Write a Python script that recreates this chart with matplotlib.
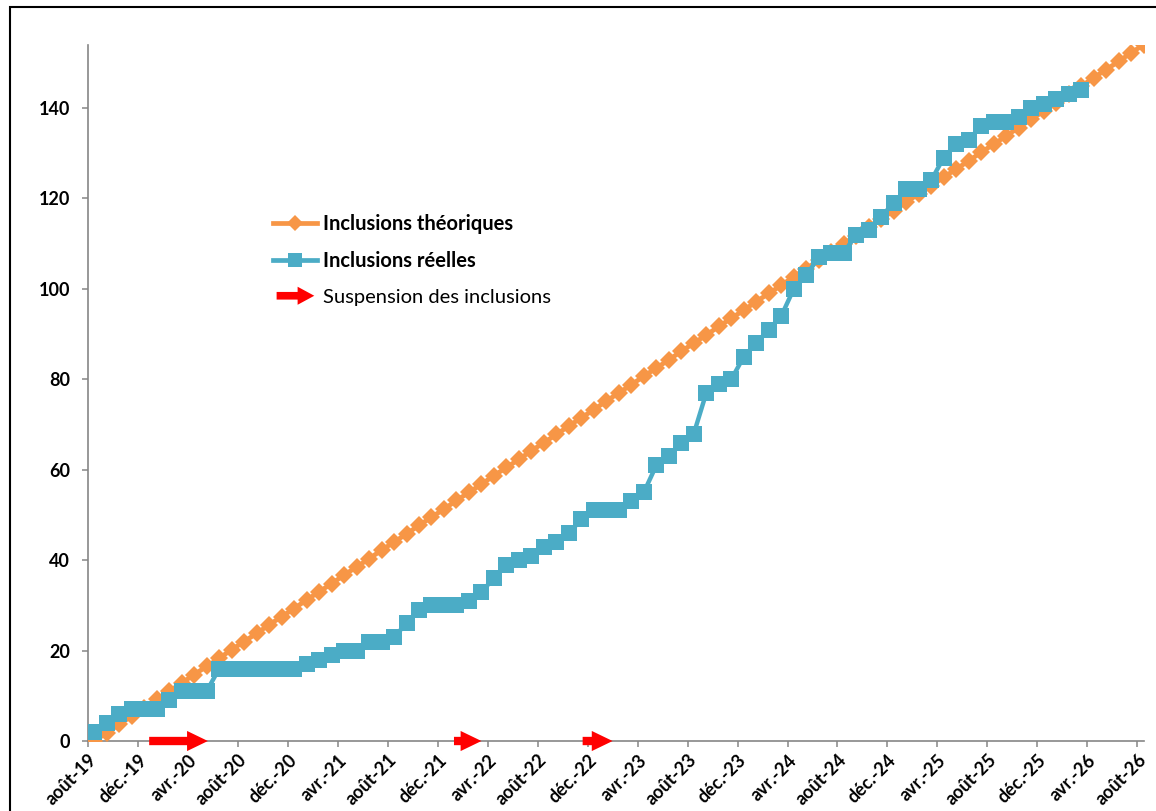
import numpy as np
import matplotlib.pyplot as plt
import matplotlib.transforms as mtransforms
from matplotlib.patches import FancyArrowPatch, Rectangle
from matplotlib.lines import Line2D
from matplotlib.legend_handler import HandlerBase

plt.rcParams['font.family'] = ['Lato', 'DejaVu Sans']

# Étiquettes de l'axe des dates (tous les 4 mois, d'août 2019 à août 2026)
labels_mois = ['août-19', 'déc.-19', 'avr.-20', 'août-20', 'déc.-20', 'avr.-21',
               'août-21', 'déc.-21', 'avr.-22', 'août-22', 'déc.-22', 'avr.-23',
               'août-23', 'déc.-23', 'avr.-24', 'août-24', 'déc.-24', 'avr.-25',
               'août-25', 'déc.-25', 'avr.-26', 'août-26']

# Inclusions cumulées théoriques, une valeur par mois
theoriques = [0, 1.8, 3.7, 5.5, 7.3, 9.2, 11.0, 12.8, 14.7, 16.5,
              18.3, 20.2, 22.0, 23.8, 25.7, 27.5, 29.3, 31.2, 33.0, 34.8,
              36.7, 38.5, 40.3, 42.2, 44.0, 45.8, 47.7, 49.5, 51.3, 53.2,
              55.0, 56.8, 58.7, 60.5, 62.3, 64.2, 66.0, 67.8, 69.7, 71.5,
              73.3, 75.2, 77.0, 78.8, 80.7, 82.5, 84.3, 86.2, 88.0, 89.8,
              91.7, 93.5, 95.3, 97.2, 99.0, 100.8, 102.7, 104.5, 106.3, 108.2,
              110.0, 111.8, 113.7, 115.5, 117.3, 119.2, 121.0, 122.8, 124.7, 126.5,
              128.3, 130.2, 132.0, 133.8, 135.7, 137.5, 139.3, 141.2, 143.0, 144.8,
              146.7, 148.5, 150.3, 152.2, 154.0]

# Inclusions cumulées réelles, une valeur par mois
reelles = [2, 4, 6, 7, 7, 7, 9, 11, 11, 11,
           16, 16, 16, 16, 16, 16, 16, 17, 18, 19,
           20, 20, 22, 22, 23, 26, 29, 30, 30, 30,
           31, 33, 36, 39, 40, 41, 43, 44, 46, 49,
           51, 51, 51, 53, 55, 61, 63, 66, 68, 77,
           79, 80, 85, 88, 91, 94, 100, 103, 107, 108,
           108, 112, 113, 116, 119, 122, 122, 124, 129, 132,
           133, 136, 137, 137, 138, 140, 141, 142, 143, 144]

# Périodes de suspension (en mois depuis août 2019)
susp_debut = [4.9, 29.3, 39.6]
susp_fin = [9.6, 31.5, 42.0]

orange = '#F79646'
bleu = '#4BACC6'
gris = '#868686'


class HandlerFleche(HandlerBase):
    def create_artists(self, legend, orig_handle, xdescent, ydescent,
                       width, height, fontsize, trans):
        y = height / 2 - ydescent
        p = FancyArrowPatch((-xdescent + 0.08 * width, y), (-xdescent + 0.93 * width, y),
                            arrowstyle='simple,head_width=1.3,head_length=1.2,tail_width=0.55',
                            mutation_scale=10, color='red', lw=0,
                            shrinkA=0, shrinkB=0, transform=trans)
        return [p]


fig = plt.figure(figsize=(11.56, 8.11), dpi=100)
ax = fig.add_axes([0.0761, 0.0863, 0.9131, 0.8585])

x_th = np.arange(len(theoriques)) + 0.5
x_re = np.arange(len(reelles)) + 0.5

ax.plot(x_th, theoriques, color=orange, lw=3.4, marker='D', markersize=9.5,
        markeredgewidth=0, zorder=3, label='Inclusions théoriques')
ax.plot(x_re, reelles, color=bleu, lw=3.2, marker='s', markersize=11.5,
        markeredgewidth=0, zorder=4, label='Inclusions réelles')

fleches = []
for d, f in zip(susp_debut, susp_fin):
    a = FancyArrowPatch((d, 0), (f, 0),
                        arrowstyle='simple,head_width=1.45,head_length=1.5,tail_width=0.6',
                        mutation_scale=10, color='red', lw=0, zorder=6,
                        shrinkA=0, shrinkB=0, clip_on=False)
    ax.add_patch(a)
    fleches.append(a)

ax.set_xlim(0, 84.5)
ax.set_ylim(0, 154)

ax.set_yticks(range(0, 141, 20))
ax.set_xticks(range(0, 85, 4))
ax.set_xticklabels(labels_mois, rotation=45, ha='right', va='top',
                   rotation_mode='anchor')

decalage = mtransforms.ScaledTranslation(5 / 100, 0, fig.dpi_scale_trans)
for lab in ax.get_xticklabels():
    lab.set_fontweight('bold')
    lab.set_transform(lab.get_transform() + decalage)
for lab in ax.get_yticklabels():
    lab.set_fontweight('bold')
ax.tick_params(axis='y', labelsize=13, length=4.5, width=1.1, color=gris, pad=8.5)
ax.tick_params(axis='x', labelsize=13, length=4.5, width=1.1, color=gris, pad=3)

for s in ['top', 'right']:
    ax.spines[s].set_visible(False)
for s in ['left', 'bottom']:
    ax.spines[s].set_color(gris)
    ax.spines[s].set_linewidth(1.2)

poignees = [
    Line2D([], [], color=orange, lw=3.4, marker='D', markersize=8, markeredgewidth=0),
    Line2D([], [], color=bleu, lw=3.4, marker='s', markersize=10.5, markeredgewidth=0),
    fleches[0],
]
leg = fig.legend(poignees,
                 ['Inclusions théoriques', 'Inclusions réelles', 'Suspension des inclusions'],
                 handler_map={FancyArrowPatch: HandlerFleche()},
                 loc='upper left', bbox_to_anchor=(263 / 1156, 1 - 204 / 811),
                 frameon=False, borderpad=0, fontsize=14.5, handlelength=2.2,
                 handletextpad=0.3, labelspacing=0.86)
for i, t in enumerate(leg.get_texts()):
    t.set_fontweight('bold' if i < 2 else 'normal')

# cadre noir autour du graphique
fig.patches.append(Rectangle((10 / 1156, -0.05), 1.2, 1.05 - 7 / 811,
                             transform=fig.transFigure, fill=False,
                             edgecolor='black', lw=1.5))

fig.savefig('out.png', dpi=100)
